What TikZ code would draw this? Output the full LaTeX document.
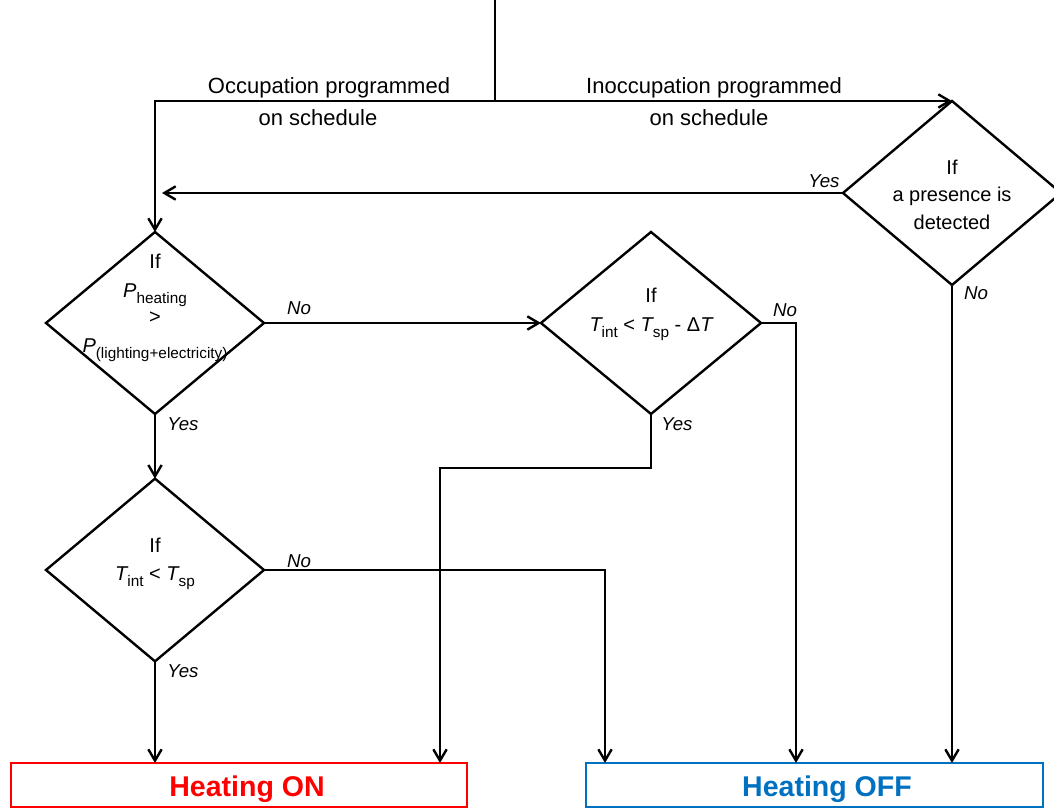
\documentclass[tikz,border=0pt]{standalone}
\usepackage{fontspec}
\setmainfont{Liberation Sans}
\usetikzlibrary{shapes.geometric,arrows.meta}
\definecolor{onred}{RGB}{255,0,0}
\definecolor{offblue}{RGB}{0,112,192}
\newcommand\sbs[1]{\raisebox{-0.3em}{\fontsize{11.5pt}{12pt}\selectfont #1}}
\begin{document}
\begin{tikzpicture}[x=0.75pt,y=-0.75pt,
  line width=1.8pt,
  dia/.style={draw, diamond, inner sep=0pt, outer sep=0pt, line width=1.8pt},
  arr/.style={-{Straight Barb[length=8.5pt,width=10pt]}},
  lbl/.style={font=\fontsize{16.5pt}{18pt}\selectfont, anchor=base, inner sep=0pt},
  dtxt/.style={font=\fontsize{15pt}{17pt}\selectfont, anchor=base, inner sep=0pt},
  yn/.style={font=\fontsize{14pt}{16pt}\selectfont\itshape, anchor=base, inner sep=0pt},
  box/.style={draw, rectangle, inner sep=0pt, outer sep=0pt, line width=2.2pt,
    minimum width=342pt, minimum height=33pt},
  btxt/.style={font=\fontsize{21.4pt}{24pt}\selectfont\bfseries, anchor=base, inner sep=0pt}
]
\useasboundingbox (0,0) rectangle (1054,809);
\clip (0,0) rectangle (1054,809);

% decision diamonds
\node[dia, minimum width=163.5pt, minimum height=136.5pt] (d1) at (155,323) {};
\node[dia, minimum width=165pt, minimum height=136.5pt] (d2) at (651,323) {};
\node[dia, minimum width=163.5pt, minimum height=137pt] (d3) at (155,570) {};
\node[dia, minimum width=163.5pt, minimum height=138pt] (pres) at (952,193) {};

% result boxes
\node[box, draw=onred] (on) at (239,785) {};
\node[box, draw=offblue, minimum width=342.75pt] (off) at (814.5,785) {};
\node[btxt, text=onred] (ontxt) at (247,796) {Heating ON};
\node[btxt, text=offblue] (offtxt) at (827,796) {Heating OFF};

% top labels
\node[lbl] (occ1) at (329,94) {Occupation programmed};
\node[lbl] (occ2) at (318,126) {on schedule};
\node[lbl] (ino1) at (714,94) {Inoccupation programmed};
\node[lbl] (ino2) at (709,126) {on schedule};

% diamond texts
\node[dtxt] (d1a) at (155,269) {If};
\node[dtxt] (d1b) at (155,298) {{\itshape P}\sbs{heating}};
\node[dtxt] (d1c) at (155,324) {>};
\node[dtxt] (d1d) at (155,353) {{\itshape P}\sbs{(lighting+electricity)}};

\node[dtxt] (d2a) at (651,303) {If};
\node[dtxt] (d2b) at (651,332) {{\itshape T}\sbs{int} < {\itshape T}\sbs{sp} - Δ{\itshape T}};

\node[dtxt] (d3a) at (155,552) {If};
\node[dtxt] (d3b) at (155,580) {{\itshape T}\sbs{int} < {\itshape T}\sbs{sp}};

\node[dtxt] (pa) at (952,175) {If};
\node[dtxt] (pb) at (952,202) {a presence is};
\node[dtxt] (pc) at (952,230) {detected};

% yes / no labels
\node[yn] (pyes) at (824,188) {Yes};
\node[yn] (pno) at (976,300) {No};
\node[yn] (d1no) at (299,315) {No};
\node[yn] (d2no) at (785,317) {No};
\node[yn] (d3no) at (299,567) {No};
\node[yn] (d1yes) at (183,431) {Yes};
\node[yn] (d2yes) at (677,431) {Yes};
\node[yn] (d3yes) at (183,677) {Yes};

% connectors
\coordinate (top) at (495,0);
\coordinate (split) at (495,101);
\coordinate (yesend) at (162,193);
\coordinate (ja) at (440,468);
\coordinate (jb) at (796,0);
\coordinate (jc) at (605,0);

\draw (top) -- (split);
\draw[arr] (split) -| (d1.north);
\draw[arr] (split) -- (pres.north);
\draw[arr] (pres.west) -- (yesend);
\draw[arr] (d1.east) -- (d2.west);
\draw[arr] (d1.south) -- (d3.north);
\draw[arr] (d3.south) -- (d3.south |- on.north);
\draw[arr] (d2.south) |- (ja) -- (ja |- on.north);
\draw[arr] (d2.east) -- (d2.east -| jb) -- (jb |- off.north);
\draw[arr] (d3.east) -| (jc |- off.north);
\draw[arr] (pres.south) -- (pres.south |- off.north);
\end{tikzpicture}
\end{document}
